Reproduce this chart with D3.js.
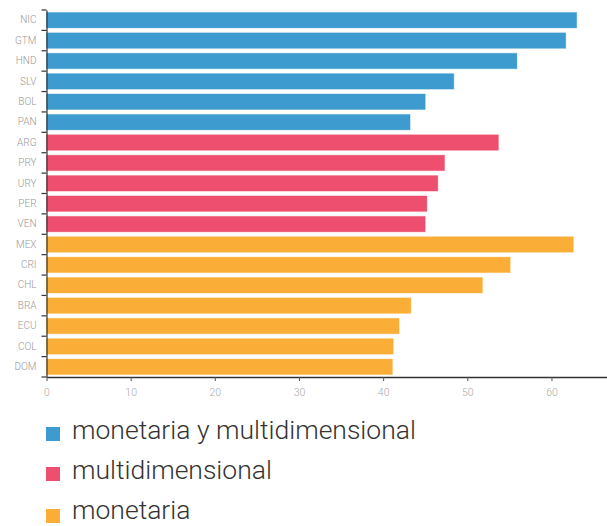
<!DOCTYPE html>
<html lang="es">
<head>
    <meta charset="UTF-8">
    <title>Pobreza</title>
    <script src="https://d3js.org/d3.v7.min.js"></script>
    <style>
        body { margin: 0; background: #fff; font-family: Roboto, "Open Sans", sans-serif; }
        .axis-y text { font-size: 10px; fill: #999; font-weight: 300; }
        .axis-x text { font-size: 10.5px; fill: #aaa; font-weight: 300; }
        .legend text { font-size: 26.5px; fill: #333; font-weight: 300; }
    </style>
</head>
<body>
    <svg width="607" height="526"></svg>
    <script>
        const countries = ["NIC", "GTM", "HND", "SLV", "BOL", "PAN",
                           "ARG", "PRY", "URY", "PER", "VEN",
                           "MEX", "CRI", "CHL", "BRA", "ECU", "COL", "DOM"];
        const values = [63.0, 61.7, 55.9, 48.4, 45.0, 43.2,
                        53.7, 47.3, 46.5, 45.2, 45.0,
                        62.6, 55.1, 51.8, 43.3, 41.9, 41.2, 41.1];
        const groups = ["mm", "mm", "mm", "mm", "mm", "mm",
                        "m", "m", "m", "m", "m",
                        "mo", "mo", "mo", "mo", "mo", "mo", "mo"];
        const groupKeys = ["mm", "m", "mo"];
        const groupNames = ["monetaria y multidimensional", "multidimensional", "monetaria"];
        const xTicks = [0, 10, 20, 30, 40, 50, 60];

        const data = countries.map((c, i) => ({ country: c, value: values[i], group: groups[i] }));

        const color = d3.scaleOrdinal()
            .domain(groupKeys)
            .range(["#3d9bd0", "#ee4f6e", "#fbae37"]);

        const margin = { left: 46.5, right: 607, top: 10, bottom: 377 };

        const svg = d3.select("svg");

        const x = d3.scaleLinear()
            .domain([0, 66.6])
            .range([margin.left, margin.right]);

        const y = d3.scaleBand()
            .domain(countries)
            .range([margin.top, margin.bottom])
            .paddingInner(0.24)
            .paddingOuter(0.12);

        // bars
        svg.selectAll(".bar")
            .data(data)
            .enter().append("rect")
            .attr("class", "bar")
            .attr("x", x(0))
            .attr("y", d => y(d.country))
            .attr("width", d => x(d.value) - x(0))
            .attr("height", y.bandwidth())
            .attr("fill", d => color(d.group))
            .attr("stroke", d => color(d.group))
            .attr("stroke-opacity", 0.35)
            .attr("stroke-width", 1);

        // y axis: labels centred, ticks at band edges
        const yAxis = d3.axisLeft(y).tickSize(0).tickPadding(10);
        const gy = svg.append("g")
            .attr("class", "axis-y")
            .attr("transform", `translate(${margin.left}, 0)`)
            .call(yAxis);
        gy.select(".domain").attr("stroke", "#333").attr("stroke-width", 1.2);
        gy.selectAll("text").attr("font-family", "Roboto, sans-serif");

        const step = y.step();
        const edges = countries.map(c => y(c) - y.paddingInner() * step / 2);
        edges.push(margin.bottom);
        gy.selectAll(".edge")
            .data(edges)
            .enter().append("line")
            .attr("class", "edge")
            .attr("x1", -5).attr("x2", 0)
            .attr("y1", d => d).attr("y2", d => d)
            .attr("stroke", "#333")
            .attr("stroke-width", 1.2);

        // x axis
        const xAxis = d3.axisBottom(x).tickValues(xTicks).tickSize(4).tickPadding(8).tickSizeOuter(0);
        const gx = svg.append("g")
            .attr("class", "axis-x")
            .attr("transform", `translate(0, ${margin.bottom})`)
            .call(xAxis);
        gx.select(".domain").attr("stroke", "#333").attr("stroke-width", 1.5);
        gx.selectAll(".tick line").attr("stroke", "#555");
        gx.selectAll("text").attr("font-family", "Roboto, sans-serif");

        // legend
        const legend = svg.append("g").attr("class", "legend");
        const items = legend.selectAll("g")
            .data(groupKeys)
            .enter().append("g")
            .attr("transform", (d, i) => `translate(46, ${427 + i * 40})`);
        items.append("rect")
            .attr("width", 14)
            .attr("height", 14)
            .attr("y", (d, i) => i === 2 ? 2 : 0)
            .attr("fill", d => color(d));
        items.append("text")
            .attr("x", 26)
            .attr("y", 12)
            .attr("font-family", "Roboto, sans-serif")
            .text((d, i) => groupNames[i]);
    </script>
</body>
</html>
